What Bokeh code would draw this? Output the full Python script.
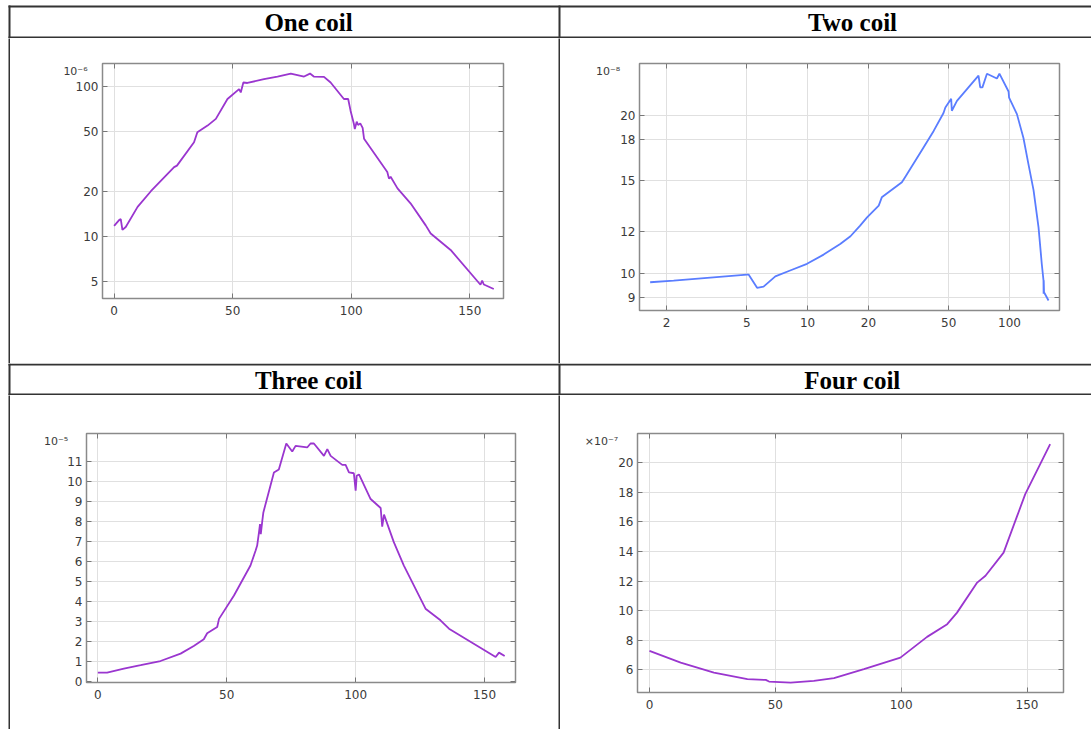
from bokeh.plotting import figure
from bokeh.layouts import column, row
from bokeh.models import (Range1d, FixedTicker, LinearAxis, LogAxis, Spacer,
                          CustomJSTickFormatter, PrintfTickFormatter)
from bokeh.core.properties import value
from bokeh.embed import file_html
from bokeh.resources import INLINE

# ---------------- data ----------------
titles = ["One coil", "Two coil", "Three coil", "Four coil"]
exponents = ["10⁻⁶", "10⁻⁸", "10⁻⁵", "×10⁻⁷"]

# One coil (values x1e-6, log y)
one_x = [0, 2.1, 2.8, 3.5, 4.9, 9.9, 15.5, 25.3, 26.5, 33.7, 35.1, 39.4, 42.9, 47.8, 52.7,
         53.4, 54.5, 56.2, 63.2, 68.9, 74.5, 80.1, 82.6, 84.2, 88.5, 91.3, 96.9, 98.7,
         99.7, 101.1, 101.5, 102.3, 102.9, 103.8, 104.8, 105.4, 115.2, 115.9, 116.6,
         119.5, 125.0, 131.4, 133.5, 141.9, 154.5, 155.2, 155.9, 160.1]
one_y = [11.8, 12.9, 13.1, 11.1, 11.6, 15.8, 20.1, 29.1, 29.8, 42.7, 49.7, 55.1, 61.1, 82.9, 96.5,
         91.7, 106.8, 106.0, 112.5, 117.0, 122.5, 117.0, 122.5, 117.0, 116.5, 106.8, 82.9, 82.9,
         69.3, 56.6, 52.3, 58.5, 55.6, 57.0, 53.2, 45.0, 27.0, 24.4, 25.1,
         21.0, 16.7, 11.9, 10.5, 8.16, 4.78, 5.1, 4.8, 4.48]

# Two coil (values x1e-8, log x, log y)
two_x = [1.66, 2.17, 5.01, 5.1, 5.62, 6.05, 6.92, 8.19, 9.93, 12.0, 14.5, 16.3, 18.2, 19.7,
         22.5, 23.3, 29.3, 30.6, 37.5, 42.1, 47.1, 48.1, 51.4, 51.8, 54.9, 70.2, 71.6, 73.4,
         77.3, 86.6, 89.1, 98.9, 99.5, 108.8, 117.2, 124.2, 131.5, 139.2, 144.5, 147.3,
         147.5, 147.7, 148.2, 156.0]
two_y = [9.61, 9.68, 9.94, 9.94, 9.38, 9.43, 9.86, 10.12, 10.42, 10.85, 11.37, 11.76, 12.32, 12.78,
         13.45, 13.95, 14.9, 15.3, 17.36, 18.67, 20.2, 20.7, 21.5, 20.4, 21.3, 23.8, 22.6, 22.6,
         24.0, 23.5, 24.0, 22.2, 21.6, 20.1, 18.1, 16.1, 14.4, 12.23, 10.4, 9.69,
         9.14, 9.69, 9.2, 8.87]

# Three coil (values x1e-5)
three_x = [0, 3.6, 10.1, 16.6, 24.3, 32.1, 37.2, 41.1, 42.4, 46.3, 47.0, 52.8, 59.2, 61.2, 61.8,
           62.5, 62.9, 63.2, 63.8, 64.2, 68.3, 70.2, 73.1, 75.4, 76.7, 81.2, 82.5, 83.8, 87.7,
           89.0, 90.3, 94.8, 96.1, 97.4, 99.3, 100.0, 100.4, 101.3, 105.8, 109.7, 110.3,
           111.0, 114.8, 118.7, 127.1, 132.9, 136.2, 154.3, 155.6, 157.8]
three_y = [0.43, 0.43, 0.63, 0.8, 1.01, 1.38, 1.76, 2.1, 2.4, 2.71, 3.12, 4.29, 5.79, 6.54, 6.79,
           7.45, 7.87, 7.36, 8.04, 8.45, 10.45, 10.6, 11.9, 11.5, 11.78, 11.7, 11.9, 11.9, 11.28,
           11.62, 11.28, 10.83, 10.83, 10.45, 10.41, 9.54, 10.28, 10.35, 9.12, 8.67, 7.74,
           8.34, 6.96, 5.79, 3.63, 3.05, 2.63, 1.21, 1.43, 1.26]

# Four coil (values x1e-7)
four_x = [0, 12.4, 25.6, 38.9, 46.2, 47.5, 56.1, 65.3, 73.3, 85.2, 99.7, 110.3, 118.3,
          122.2, 130.2, 133.5, 140.7, 149.3, 159.2]
four_y = [7.28, 6.49, 5.82, 5.37, 5.32, 5.21, 5.14, 5.26, 5.44, 6.05, 6.83, 8.23, 9.09,
          9.87, 11.9, 12.36, 13.93, 17.88, 21.26]

lin_ticks = [0, 50, 100, 150]
one_yticks = [5, 10, 20, 50, 100]
two_xticks = [2, 5, 10, 20, 50, 100]
two_yticks = [9, 10, 12, 15, 18, 20]
three_yticks = list(range(0, 12))
four_yticks = list(range(6, 22, 2))

# ---------------- styling ----------------
LINE = "#333333"
PURPLE = "#9a36cf"
BLUE = "#5a7dff"
TICK = "#777777"
LBL = "#3a3a3a"
GRID = "#e0e0e0"
W = 1091


def header(y0, y1, left_title, right_title, text_mid):
    h = y1 - y0
    p = figure(width=W, height=h, x_range=Range1d(0, W), y_range=Range1d(y1, y0),
               min_border=0, toolbar_location=None, output_backend="svg",
               x_axis_type=None, y_axis_type=None, outline_line_color=None,
               frame_align=False)
    p.grid.visible = False
    top = 5 if y0 == 0 else y0
    p.quad(left=[8, 8, 8, 558], right=[W, W, 10, 560],
           top=[top, y1 - 2, top, top], bottom=[top + 2, y1, y1, y1],
           color=LINE, line_color=None)
    p.text(x=[308, 852], y=[text_mid, text_mid], text=[left_title, right_title],
           text_font=value("Liberation Serif"), text_font_style="bold",
           text_font_size="25px", text_align="center", text_baseline="middle",
           text_color="#000000")
    return p


def strip(h):
    p = figure(width=2, height=h, min_border=0, toolbar_location=None, output_backend="svg",
               x_axis_type=None, y_axis_type=None, outline_line_color=None,
               background_fill_color=LINE, border_fill_color=LINE, frame_align=False)
    p.grid.visible = False
    return p


def style_axis(ax, ticks, labels=True):
    ax.ticker = FixedTicker(ticks=ticks)
    if labels:
        ax.formatter = PrintfTickFormatter(format="%d")
    else:
        ax.formatter = CustomJSTickFormatter(code="return ''")
    ax.axis_line_color = None
    ax.major_tick_in = 5
    ax.major_tick_out = 0
    ax.minor_tick_line_color = None
    ax.major_tick_line_color = TICK
    ax.major_label_text_font = "DejaVu Sans"
    ax.major_label_text_font_size = "12px"
    ax.major_label_text_color = LBL


def chart(w, h, borders, xr, yr, xtype, ytype, xticks, yticks, xs, ys, color,
          exp_text, exp_standoff):
    l, r, t, b = borders
    p = figure(width=w, height=h, x_range=Range1d(*xr), y_range=Range1d(*yr),
               x_axis_type=xtype, y_axis_type=ytype, toolbar_location=None,
               output_backend="svg", min_border_left=l, min_border_right=r,
               min_border_top=t, min_border_bottom=b, frame_align=False)
    p.line(xs, ys, line_color=color, line_width=1.8)
    style_axis(p.xaxis[0], xticks)
    style_axis(p.yaxis[0], yticks)
    p.xaxis[0].major_label_standoff = 7
    yax = p.yaxis[0]
    yax.major_label_standoff = 4
    yax.axis_label = "\n" + exp_text
    yax.axis_label_orientation = "horizontal"
    yax.axis_label_align = "end"
    yax.axis_label_standoff = exp_standoff
    yax.axis_label_text_font = "DejaVu Sans"
    yax.axis_label_text_font_style = "normal"
    yax.axis_label_text_font_size = "11px"
    yax.axis_label_text_color = LBL
    XA = LogAxis if xtype == "log" else LinearAxis
    YA = LogAxis if ytype == "log" else LinearAxis
    top = XA()
    right = YA()
    style_axis(top, xticks, labels=False)
    style_axis(right, yticks, labels=False)
    p.add_layout(top, "above")
    p.add_layout(right, "right")
    p.xgrid.ticker = FixedTicker(ticks=xticks)
    p.ygrid.ticker = FixedTicker(ticks=yticks)
    p.grid.grid_line_color = GRID
    p.grid.grid_line_width = 1
    p.outline_line_color = "#8a8a8a"
    p.outline_line_width = 1.5
    return p


p1 = chart(548, 325, (92, 55, 25, 65), (-4.9, 164.2), (3.87, 143), "linear", "log",
           lin_ticks, one_yticks, one_x, one_y, PURPLE, exponents[0], -15)
p2 = chart(531, 325, (79, 32, 25, 53), (1.47, 176.8), (8.49, 25.1), "log", "log",
           two_xticks, two_yticks, two_x, two_y, BLUE, exponents[1], -3)
p3 = chart(548, 334, (76, 43, 38, 47), (-4.4, 162.0), (-0.065, 12.4), "linear", "linear",
           lin_ticks, three_yticks, three_x, three_y, PURPLE, exponents[2], -4)
p4 = chart(531, 334, (77, 28, 38, 37), (-4.76, 164.5), (4.47, 21.98), "linear", "linear",
           lin_ticks, four_yticks, four_x, four_y, PURPLE, exponents[3], -3)

h1 = header(0, 38, titles[0], titles[1], 21.5)
h2 = header(363, 395, titles[2], titles[3], 380)

layout = column(
    h1,
    row(Spacer(width=8, height=325), strip(325), p1, strip(325), p2),
    h2,
    row(Spacer(width=8, height=334), strip(334), p3, strip(334), p4),
)

open("out.html", "w").write(file_html(layout, INLINE))
